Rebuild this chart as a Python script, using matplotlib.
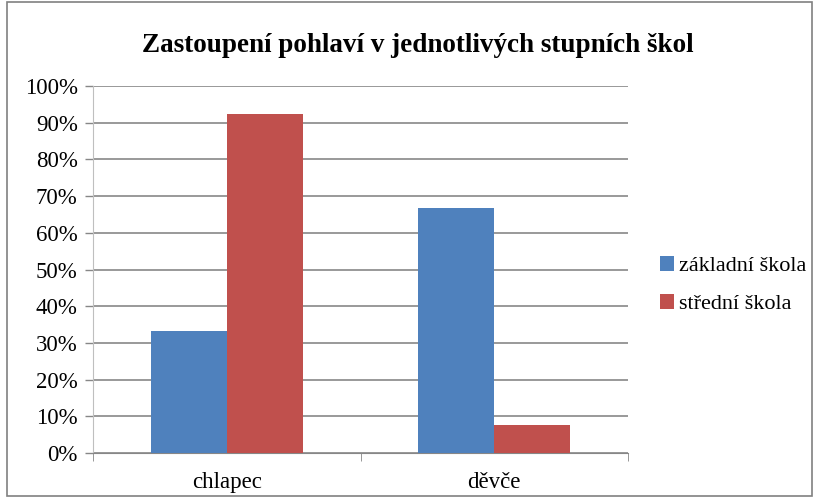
import numpy as np
import matplotlib
matplotlib.use('Agg')
import matplotlib.pyplot as plt
from matplotlib.patches import Rectangle
from matplotlib.ticker import PercentFormatter

categories = ['chlapec', 'děvče']
series_names = ['základní škola', 'střední škola']
zakladni = [33.3, 66.7]
stredni = [92.3, 7.7]
colors = ['#4F81BD', '#C0504D']

plt.rcParams['font.family'] = ['Liberation Serif', 'DejaVu Serif']

fig = plt.figure(figsize=(8.19, 4.97), dpi=100)
ax = fig.add_axes([93 / 819, 1 - 453 / 497, 535 / 819, 367 / 497])

x = np.arange(len(categories))
w = 0.284
ax.bar(x - w / 2, zakladni, w, color=colors[0], label=series_names[0], zorder=3)
ax.bar(x + w / 2, stredni, w, color=colors[1], label=series_names[1], zorder=3)

ax.set_xlim(-0.5, 1.5)
ax.set_ylim(0, 100)
ax.set_yticks(np.arange(0, 101, 10))
ax.yaxis.set_major_formatter(PercentFormatter(decimals=0))
ax.yaxis.grid(True, color='#878787', linewidth=1.2, zorder=0)
ax.tick_params(axis='y', labelsize=16.5, length=6, color='#878787', width=1, pad=5)

ax.set_xticks(x)
ax.set_xticklabels(categories, fontsize=16.5)
ax.set_xticks([-0.5, 0.5, 1.5], minor=True)
ax.tick_params(axis='x', which='major', length=0, pad=14)
ax.tick_params(axis='x', which='minor', length=6, color='#878787')

for s in ['top', 'right']:
    ax.spines[s].set_visible(False)
ax.spines['left'].set_color('#BFBFBF')
ax.spines['bottom'].set_color('#878787')

fig.text(418 / 819, 1 - 45 / 497, 'Zastoupení pohlaví v jednotlivých stupních škol',
         ha='center', va='center', fontsize=19.5, fontweight='bold')

fig.legend(loc='center left', bbox_to_anchor=(640 / 819, 1 - 285 / 497), frameon=False,
           fontsize=16, handlelength=0.65, handleheight=0.65, handletextpad=0.2,
           labelspacing=0.8)

fig.patches.append(Rectangle((7 / 819, 1 / 497), 805 / 819, 494 / 497, transform=fig.transFigure,
                             fill=False, edgecolor='#808080', linewidth=1.2))

fig.savefig('out.png', dpi=100)
